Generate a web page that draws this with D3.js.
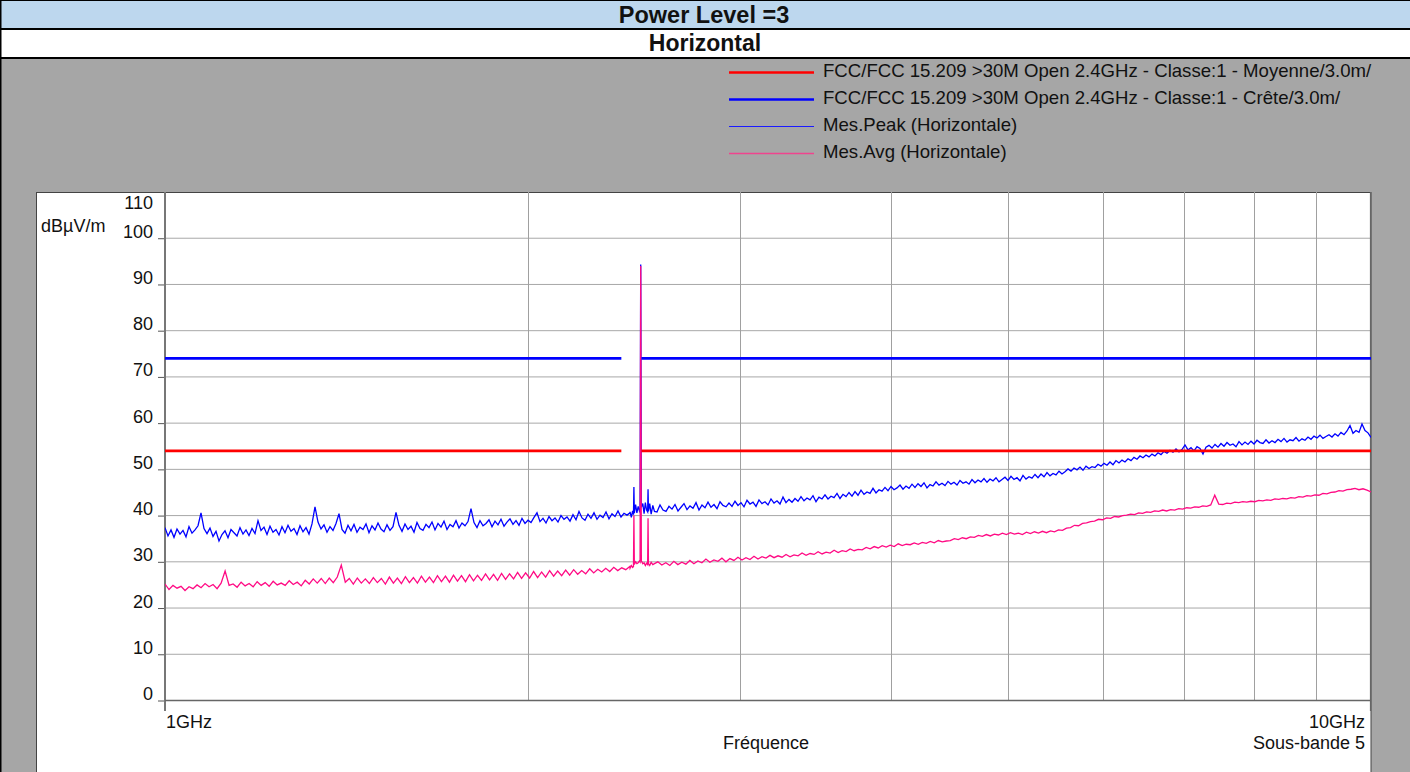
<!DOCTYPE html>
<meta charset="utf-8">
<style>
  body {
    margin: 0;
    background: #fff;
  }

  svg text {
    font-family: "Liberation Sans", Arial, sans-serif;
    fill: #111;
  }
</style>

<body>

  <script src="https://cdn.jsdelivr.net/npm/d3@7"></script>

  <script>

    // ---- data ----
    var sweepStartGHz = 1, sweepStopGHz = 10;

    // Mes.Peak (Horizontale), dBuV/m, one reading per sweep step (log-spaced)
    var peakLevels = [
      /*0*/ 37.4, 35.6, 36.9, 35.3, 37.1, 36.0, 36.8, 35.4, 37.6, 36.2,
      /*10*/ 36.9, 37.8, 40.6, 37.2, 36.1, 37.3, 35.5, 36.6, 34.5, 35.9,
      /*20*/ 36.7, 35.2, 37.0, 36.3, 35.6, 37.4, 36.0, 36.9, 35.7, 37.2,
      /*30*/ 36.1, 38.9, 36.8, 37.5, 35.9, 37.7, 36.4, 37.0, 35.8, 37.6,
      /*40*/ 36.3, 37.9, 36.6, 37.2, 35.9, 37.8, 36.5, 37.4, 36.0, 38.2,
      /*50*/ 41.9, 38.6, 37.1, 38.0, 36.4, 37.6, 36.8, 38.3, 40.4, 37.0,
      /*60*/ 36.2, 37.9, 36.7, 38.1, 36.4, 37.5, 37.0, 38.2, 36.3, 37.8,
      /*70*/ 36.9, 38.4, 37.1, 36.5, 38.0, 36.8, 37.6, 40.7, 37.9, 36.6,
      /*80*/ 38.2, 37.0, 37.7, 36.4, 38.5, 37.2, 36.8, 38.1, 37.4, 38.6,
      /*90*/ 36.9, 38.3, 37.5, 38.8, 37.0, 38.1, 37.6, 38.9, 37.3, 38.4,
      /*100*/ 37.8, 38.7, 41.5, 38.5, 37.4, 38.9, 37.8, 38.3, 39.1, 37.6,
      /*110*/ 38.8, 38.0, 39.2, 37.7, 38.6, 39.3, 38.1, 38.9, 37.9, 39.4,
      /*120*/ 38.3, 39.0, 38.5, 39.6, 40.6, 38.7, 39.4, 38.4, 39.8, 38.9,
      /*130*/ 39.5, 38.6, 40.0, 39.2, 39.7, 38.8, 40.2, 39.1, 40.9, 39.5,
      /*140*/ 39.0, 40.3, 39.4, 40.6, 39.2, 40.1, 39.6, 40.8, 39.3, 40.4,
      /*150*/ 39.8, 41.0, 39.7, 40.5, 40.1, 40.6, 41.0, 40.2, 41.2, 40.8,
      /*160*/ 41.4, 41.0, 41.6, 41.9, 40.8, 42.3, 41.2, 40.9, 42.0, 41.4,
      /*170*/ 42.4, 41.0, 41.8, 42.6, 41.3, 42.1, 41.6, 42.8, 41.2, 42.3,
      /*180*/ 41.7, 42.9, 41.8, 42.4, 41.5, 43.0, 42.2, 41.9, 42.7, 42.0,
      /*190*/ 43.1, 42.2, 42.8, 41.9, 43.3, 42.5, 42.9, 42.0, 43.4, 42.6,
      /*200*/ 43.0, 42.3, 43.6, 42.7, 43.2, 42.5, 44.0, 42.8, 43.5, 42.9,
      /*210*/ 43.7, 43.1, 44.1, 43.2, 43.8, 43.4, 44.3, 43.0, 44.0, 43.6,
      /*220*/ 44.5, 43.6, 44.2, 43.9, 44.8, 43.7, 44.6, 44.1, 45.0, 44.2,
      /*230*/ 45.2, 44.4, 45.5, 44.6, 45.1, 44.8, 45.9, 44.9, 45.6, 45.3,
      /*240*/ 46.1, 45.4, 46.3, 45.6, 46.0, 46.6, 45.7, 46.4, 45.9, 46.8,
      /*250*/ 46.1, 46.9, 46.3, 47.1, 46.0, 46.7, 46.4, 47.3, 46.6, 47.0,
      /*260*/ 46.5, 47.4, 46.8, 47.2, 46.6, 47.6, 47.0, 47.3, 46.8, 47.8,
      /*270*/ 47.1, 47.7, 47.3, 48.0, 47.2, 47.9, 47.5, 48.2, 47.3, 47.8,
      /*280*/ 48.3, 47.6, 48.5, 47.8, 48.2, 47.5, 48.7, 47.9, 48.4, 48.1,
      /*290*/ 48.9, 48.2, 49.0, 48.4, 49.3, 48.6, 49.1, 48.8, 49.6, 49.0,
      /*300*/ 49.5, 50.1, 49.6, 50.3, 49.9, 50.5, 49.8, 50.7, 50.2, 50.6,
      /*310*/ 50.4, 51.1, 50.7, 51.3, 50.9, 51.6, 51.0, 51.9, 51.4, 52.0,
      /*320*/ 51.6, 52.3, 51.9, 52.6, 52.2, 52.9, 52.5, 53.1, 52.7, 53.3,
      /*330*/ 52.9, 53.6, 53.2, 53.9, 53.5, 54.1, 53.7, 54.4, 53.8, 54.3,
      /*340*/ 55.3, 54.2, 54.7, 54.0, 54.9, 54.5, 53.3, 54.8, 55.2, 54.6,
      /*350*/ 55.4, 54.8, 55.6, 55.0, 55.8, 55.2, 55.5, 54.9, 56.0, 55.3,
      /*360*/ 55.9, 55.4, 56.1, 55.5, 56.3, 55.8, 55.6, 56.4, 55.7, 56.2,
      /*370*/ 55.8, 56.5, 56.0, 56.7, 55.9, 56.4, 56.2, 56.9, 56.1, 56.6,
      /*380*/ 56.3, 57.0, 56.5, 57.2, 56.8, 57.4, 56.7, 57.1, 57.5, 57.0,
      /*390*/ 57.7, 57.2, 58.0, 57.5, 58.3, 59.5, 57.8, 58.4, 58.0, 59.8,
      /*400*/ 58.4, 57.9, 56.9
    ];

    // Mes.Avg (Horizontale), dBuV/m, one reading per sweep step (log-spaced)
    var avgLevels = [
      /*0*/ 25.2, 24.0, 24.9, 24.3, 24.7, 23.8, 24.6, 24.2, 25.0, 24.4,
      /*10*/ 25.3, 24.6, 25.1, 24.2, 25.4, 28.0, 24.9, 25.2, 24.5, 25.6,
      /*20*/ 24.8, 25.3, 24.6, 25.7, 24.9, 25.5, 24.7, 25.8, 25.0, 25.4,
      /*30*/ 24.9, 25.9, 25.1, 25.6, 24.8, 26.0, 25.2, 26.3, 25.4, 26.4,
      /*40*/ 25.3, 26.5, 25.5, 26.7, 29.3, 25.6, 26.4, 25.2, 26.5, 25.4,
      /*50*/ 26.3, 25.3, 26.6, 25.5, 26.4, 25.2, 26.7, 25.4, 26.5, 25.3,
      /*60*/ 26.8, 25.5, 26.6, 25.4, 26.9, 25.6, 26.7, 25.5, 27.0, 25.7,
      /*70*/ 26.9, 25.6, 27.1, 25.8, 27.0, 25.7, 27.2, 25.9, 27.1, 26.0,
      /*80*/ 27.4, 26.1, 27.3, 26.0, 27.5, 26.2, 27.4, 26.3, 27.7, 26.4,
      /*90*/ 27.6, 26.5, 27.9, 26.6, 27.8, 26.7, 28.1, 26.9, 28.0, 27.0,
      /*100*/ 28.2, 27.1, 28.3, 27.3, 28.1, 27.4, 28.5, 27.6, 28.4, 27.8,
      /*110*/ 28.6, 27.9, 28.8, 28.1, 28.7, 28.3, 29.0, 28.6, 29.2, 29.4,
      /*120*/ 29.3, 29.5, 29.1, 30.0, 29.3, 29.8, 29.2, 30.1, 29.4, 29.9,
      /*130*/ 29.5, 30.3, 29.6, 30.2, 29.8, 30.6, 29.9, 30.4, 30.1, 30.8,
      /*140*/ 30.0, 30.7, 30.3, 31.0, 30.4, 30.9, 30.5, 31.2, 30.6, 31.1,
      /*150*/ 30.8, 31.4, 30.9, 31.3, 31.0, 31.6, 31.1, 31.5, 31.3, 31.9,
      /*160*/ 31.4, 31.8, 31.6, 32.2, 31.7, 32.1, 31.9, 32.5, 32.0, 32.4,
      /*170*/ 32.2, 32.8, 32.4, 32.7, 32.6, 33.1, 32.8, 33.3, 33.0, 33.5,
      /*180*/ 33.2, 33.6, 33.3, 33.9, 33.5, 33.8, 33.7, 34.1, 33.8, 34.2,
      /*190*/ 34.0, 34.4, 34.1, 34.6, 34.3, 34.5, 34.6, 35.0, 34.8, 35.2,
      /*200*/ 35.0, 35.4, 35.3, 35.7, 35.5, 35.9, 35.6, 36.0, 35.8, 36.2,
      /*210*/ 35.9, 36.3, 36.0, 36.2, 35.9, 36.4, 36.1, 36.5, 36.2, 36.6,
      /*220*/ 36.3, 36.7, 36.5, 36.9, 36.8, 37.3, 37.4, 37.9, 37.8, 38.3,
      /*230*/ 38.4, 38.7, 38.8, 39.2, 39.1, 39.5, 39.4, 39.8, 39.7, 40.0,
      /*240*/ 40.1, 40.3, 40.2, 40.6, 40.5, 40.8, 40.7, 41.0, 40.9, 41.2,
      /*250*/ 41.0, 41.3, 41.2, 41.5, 41.4, 41.7, 41.6, 41.9, 41.8, 42.1,
      /*260*/ 42.0, 42.3, 44.4, 42.5, 42.4, 42.7, 42.6, 42.9, 42.8, 43.0,
      /*270*/ 42.9, 43.1, 43.0, 43.3, 43.2, 43.4, 43.3, 43.6, 43.5, 43.7,
      /*280*/ 43.6, 43.9, 43.8, 44.1, 44.0, 44.3, 44.2, 44.5, 44.4, 44.8,
      /*290*/ 44.7, 45.0, 45.1, 45.4, 45.3, 45.6, 45.7, 45.9, 45.6, 45.8,
      /*300*/ 45.5, 45.1
    ];

    // zoomed readings around the 2.48 GHz carrier: [GHz, dBuV/m]
    var peakCarrierZone = [
      [2.430, 40.8], [2.436, 39.6], [2.442, 41.0], [2.446, 40.2], [2.448, 46.2],
      [2.450, 40.5], [2.456, 42.4], [2.462, 40.6], [2.468, 42.0], [2.474, 41.0],
      [2.477, 41.5], [2.480, 94.3], [2.483, 41.8], [2.490, 42.6], [2.496, 40.4],
      [2.502, 42.8], [2.508, 41.2], [2.513, 40.8], [2.515, 45.7], [2.517, 40.9],
      [2.523, 42.6], [2.530, 40.3], [2.538, 42.2], [2.546, 40.9]
    ];
    var avgCarrierZone = [
      [2.430, 28.6], [2.436, 29.2], [2.442, 28.8], [2.446, 29.0], [2.448, 40.0],
      [2.450, 29.4], [2.456, 30.0], [2.462, 29.6], [2.468, 29.8], [2.474, 30.2],
      [2.477, 30.0], [2.480, 94.0], [2.483, 30.2], [2.490, 29.6], [2.496, 29.8],
      [2.502, 29.2], [2.508, 29.7], [2.513, 29.4], [2.515, 39.4], [2.517, 29.6],
      [2.523, 29.2], [2.530, 29.9], [2.538, 29.4], [2.546, 29.6]
    ];

    // FCC 15.209 limits (not applied inside the 2.39 - 2.4835 GHz band)
    var limitAvg = 54;
    var limitPeak = 74;
    var limitBands = [[1, 2.39], [2.4835, 10]];

    var yTicks = [0, 10, 20, 30, 40, 50, 60, 70, 80, 90, 100, 110];
    var xGridGHz = [2, 3, 4, 5, 6, 7, 8, 9];

    var legendItems = [
      { label: "FCC/FCC 15.209 >30M Open 2.4GHz - Classe:1 - Moyenne/3.0m/", color: "#ff0000", w: 2.6 },
      { label: "FCC/FCC 15.209 >30M Open 2.4GHz - Classe:1 - Crête/3.0m/", color: "#0000ff", w: 2.6 },
      { label: "Mes.Peak (Horizontale)", color: "#1a1aff", w: 1.2 },
      { label: "Mes.Avg (Horizontale)", color: "#f0448e", w: 1.6 }
    ];

    // ---- layout ----
    var W = 1410, H = 772;
    var plot = { left: 165, right: 1371, top: 192, bottom: 700.5 };

    var svg = d3.select("body")
      .append("svg")
      .attr("width", W)
      .attr("height", H);

    // header rows
    svg.append("rect").attr("x", 0).attr("y", 0).attr("width", W).attr("height", 29).style("fill", "#bdd7ee");
    svg.append("rect").attr("x", 0).attr("y", 29).attr("width", W).attr("height", 29).style("fill", "#fff");
    svg.append("rect").attr("x", 0).attr("y", 58).attr("width", W).attr("height", H - 58).style("fill", "#a6a6a6");
    [0.5, 29, 58].forEach(function (yy, i) {
      svg.append("line")
        .attr("x1", 0).attr("x2", W).attr("y1", yy).attr("y2", yy)
        .style("stroke", "#000").style("stroke-width", i == 0 ? 1 : 2);
    });
    svg.append("line").attr("x1", 0.75).attr("x2", 0.75).attr("y1", 0).attr("y2", H)
      .style("stroke", "#000").style("stroke-width", 1.5);

    svg.append("text").attr("x", 704).attr("y", 22.5).attr("text-anchor", "middle")
      .style("font-size", "23.5px").style("font-weight", "bold").text("Power Level =3");
    svg.append("text").attr("x", 705).attr("y", 50.5).attr("text-anchor", "middle")
      .style("font-size", "23px").style("font-weight", "bold").text("Horizontal");

    // legend
    var legend = svg.append("g");
    legendItems.forEach(function (d, i) {
      var ly = 72.5 + i * 27;
      legend.append("line")
        .attr("x1", 729).attr("x2", 814).attr("y1", ly).attr("y2", ly)
        .style("stroke", d.color).style("stroke-width", d.w);
      legend.append("text")
        .attr("x", 823).attr("y", ly + 4.5)
        .style("font-size", "18.6px")
        .text(d.label);
    });

    // white chart panel
    svg.append("rect")
      .attr("x", 36.5).attr("y", 192.5)
      .attr("width", plot.right - 36.5).attr("height", H)
      .style("fill", "#fff").style("stroke", "#444").style("stroke-width", 1);

    // scales
    var x = d3.scaleLog().domain([sweepStartGHz, sweepStopGHz]).range([plot.left, plot.right]);
    var y = d3.scaleLinear().domain([0, 110]).range([plot.bottom, plot.top]);

    // grid
    svg.append("g").selectAll("line")
      .data(yTicks.filter(function (t) { return t > 0 && t < 110; }))
      .enter().append("line")
      .attr("x1", plot.left).attr("x2", plot.right)
      .attr("y1", function (d) { return y(d); }).attr("y2", function (d) { return y(d); })
      .style("stroke", "#a8a8a8").style("stroke-width", 1);
    svg.append("g").selectAll("line")
      .data(xGridGHz)
      .enter().append("line")
      .attr("x1", function (d) { return Math.round(x(d)) + 0.5; })
      .attr("x2", function (d) { return Math.round(x(d)) + 0.5; })
      .attr("y1", plot.top).attr("y2", plot.bottom)
      .style("stroke", "#a0a0a0").style("stroke-width", 1);
    svg.append("line")
      .attr("x1", plot.right - 0.5).attr("x2", plot.right - 0.5).attr("y1", plot.top).attr("y2", 711)
      .style("stroke", "#666").style("stroke-width", 1.2);

    // y axis
    var yAxis = svg.append("g")
      .attr("transform", "translate(" + plot.left + ",0)")
      .call(d3.axisLeft(y).tickValues(yTicks.filter(function (t) { return t < 110; })).tickSize(7).tickFormat(""));
    yAxis.select(".domain").remove();
    yAxis.selectAll(".tick line").style("stroke", "#555");
    svg.append("line")
      .attr("x1", plot.left).attr("x2", plot.left).attr("y1", plot.top).attr("y2", 711)
      .style("stroke", "#777").style("stroke-width", 2);

    svg.append("g").selectAll("text")
      .data(yTicks)
      .enter().append("text")
      .attr("x", 153)
      .attr("y", function (d) { return d == 110 ? 209 : y(d) - 0.5; })
      .attr("text-anchor", "end")
      .style("font-size", "18px")
      .text(function (d) { return d; });

    svg.append("text").attr("x", 41).attr("y", 232)
      .style("font-size", "18px").text("dBµV/m");

    // x axis
    svg.append("line")
      .attr("x1", plot.left).attr("x2", plot.right).attr("y1", plot.bottom).attr("y2", plot.bottom)
      .style("stroke", "#666").style("stroke-width", 1.5);

    svg.append("text").attr("x", 166).attr("y", 727.5).style("font-size", "18px").text("1GHz");
    svg.append("text").attr("x", 1365).attr("y", 727.5).attr("text-anchor", "end").style("font-size", "18px").text("10GHz");
    svg.append("text").attr("x", 766).attr("y", 749).attr("text-anchor", "middle").style("font-size", "18px").text("Fréquence");
    svg.append("text").attr("x", 1365).attr("y", 749).attr("text-anchor", "end").style("font-size", "18px").text("Sous-bande 5");

    // build the traces from the sweep + the zoomed carrier readings
    function buildTrace(levels, zone) {
      var stepToLog = d3.scaleLinear()
        .domain([0, levels.length - 1])
        .range([Math.log10(sweepStartGHz), Math.log10(sweepStopGHz)]);
      var lo = zone[0][0], hi = zone[zone.length - 1][0];
      var pts = levels.map(function (v, i) { return { f: Math.pow(10, stepToLog(i)), v: v }; })
        .filter(function (d) { return d.f < lo || d.f > hi; });
      zone.forEach(function (d) { pts.push({ f: d[0], v: d[1] }); });
      pts.sort(function (a, b) { return a.f - b.f; });
      return pts;
    }

    var line = d3.line()
      .x(function (d) { return x(d.f); })
      .y(function (d) { return y(d.v); });

    svg.append("clipPath").attr("id", "plotclip")
      .append("rect").attr("x", plot.left).attr("y", plot.top)
      .attr("width", plot.right - plot.left).attr("height", plot.bottom - plot.top);

    var traces = svg.append("g").attr("clip-path", "url(#plotclip)");

    traces.append("path")
      .datum(buildTrace(peakLevels, peakCarrierZone))
      .attr("d", line)
      .style("fill", "none").style("stroke", "#0000ff").style("stroke-width", 1.3);

    traces.append("path")
      .datum(buildTrace(avgLevels, avgCarrierZone))
      .attr("d", line)
      .style("fill", "none").style("stroke", "#ff0a84").style("stroke-width", 1.3);

    // limit lines
    [[limitAvg, "#ff0000"], [limitPeak, "#0000ff"]].forEach(function (lim) {
      traces.append("g").selectAll("line")
        .data(limitBands)
        .enter().append("line")
        .attr("x1", function (d) { return x(d[0]); })
        .attr("x2", function (d) { return x(d[1]); })
        .attr("y1", y(lim[0])).attr("y2", y(lim[0]))
        .style("stroke", lim[1]).style("stroke-width", 2.6);
    });

  </script>
</body>
